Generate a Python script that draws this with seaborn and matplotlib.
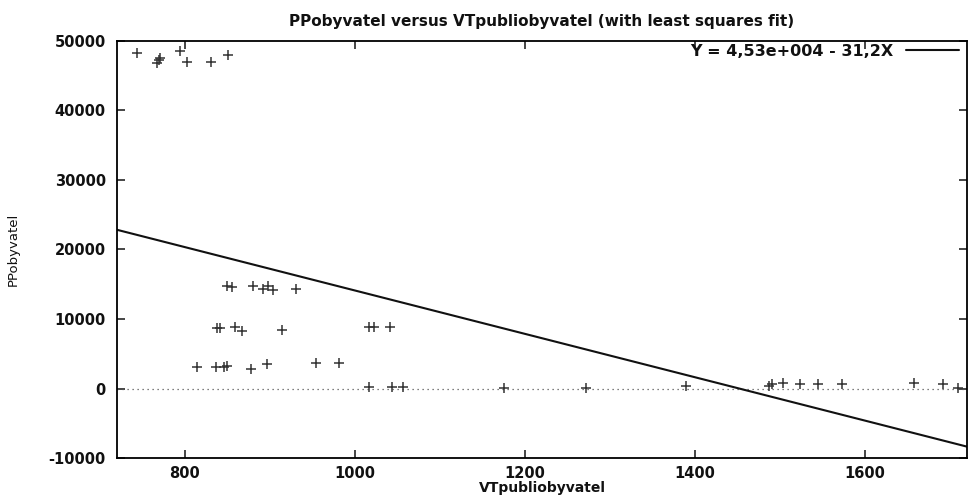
import numpy as np
import pandas as pd
import matplotlib
matplotlib.use('Agg')
import matplotlib.pyplot as plt
import seaborn as sns

sns.set_style('ticks')
plt.rcParams['font.family'] = ['DejaVu Sans']
plt.rcParams['axes.unicode_minus'] = False

# data
vt = [744, 794, 769, 771, 767, 802, 831, 851,
      849, 855, 880, 892, 898, 904, 931,
      838, 841, 859, 867, 914, 1016, 1022, 1041,
      814, 836, 846, 850, 878, 896, 954, 981,
      1017, 1044, 1057,
      1175, 1272, 1389, 1487, 1491, 1504, 1524, 1545, 1573, 1658, 1692, 1710]
pp = [48230, 48600, 47270, 47510, 46790, 47020, 47020, 47990,
      14750, 14650, 14750, 14270, 14750, 14170, 14270,
      8660, 8660, 8900, 8320, 8420, 8900, 8900, 8900,
      3050, 3050, 3050, 3280, 2760, 3480, 3620, 3620,
      260, 260, 170,
      120, 120, 360, 360, 600, 750, 600, 600, 600, 750, 600, 120]
intercept = 45300
slope = -31.2
fit_label = 'Y = 4,53e+004 - 31,2X'

df = pd.DataFrame({'VTpubliobyvatel': vt, 'PPobyvatel': pp})

txt = '#111111'
fig = plt.figure(figsize=(9.7, 4.98), dpi=100)
ax = fig.add_axes([0.1206, 0.0803, 0.8763, 0.8374])

ax.axhline(0, color='#555555', linestyle=(0, (1, 3)), linewidth=0.9, zorder=1)

sns.scatterplot(data=df, x='VTpubliobyvatel', y='PPobyvatel', marker='+',
                s=60, color='#333333', linewidth=1.1, ax=ax, zorder=3)

xs = np.array([720, 1720])
ax.plot(xs, intercept + slope * xs, color='#111111', linewidth=1.5, label=fit_label)

ax.set_xlim(720, 1720)
ax.set_ylim(-10000, 50000)
ax.set_xticks([800, 1000, 1200, 1400, 1600])
ax.set_yticks(range(-10000, 50001, 10000))
ax.tick_params(direction='in', top=True, right=True, length=6, width=1.2,
               labelsize=10.5, labelcolor=txt)
ax.tick_params(axis='x', pad=6)
ax.tick_params(axis='y', pad=8)
for lab in ax.get_xticklabels() + ax.get_yticklabels():
    lab.set_fontweight('bold')
for sp in ax.spines.values():
    sp.set_linewidth(1.3)
    sp.set_color('black')

ax.set_xlabel('VTpubliobyvatel', fontsize=10, fontweight='bold', color=txt, labelpad=0)
ax.set_ylabel('PPobyvatel', fontsize=9.5, color=txt)
ax.yaxis.set_label_coords(-0.114, 0.5)
ax.set_title('PPobyvatel versus VTpubliobyvatel (with least squares fit)',
             fontsize=11, fontweight='bold', color=txt, pad=11)

leg = ax.legend(loc='upper right', bbox_to_anchor=(1.0, 1.012), frameon=False,
                markerfirst=False, handlelength=3.3,
                prop={'size': 11.5, 'weight': 'bold'}, borderaxespad=0.1, handletextpad=0.8)
for t in leg.get_texts():
    t.set_color(txt)

fig.savefig('out.png', dpi=100)
